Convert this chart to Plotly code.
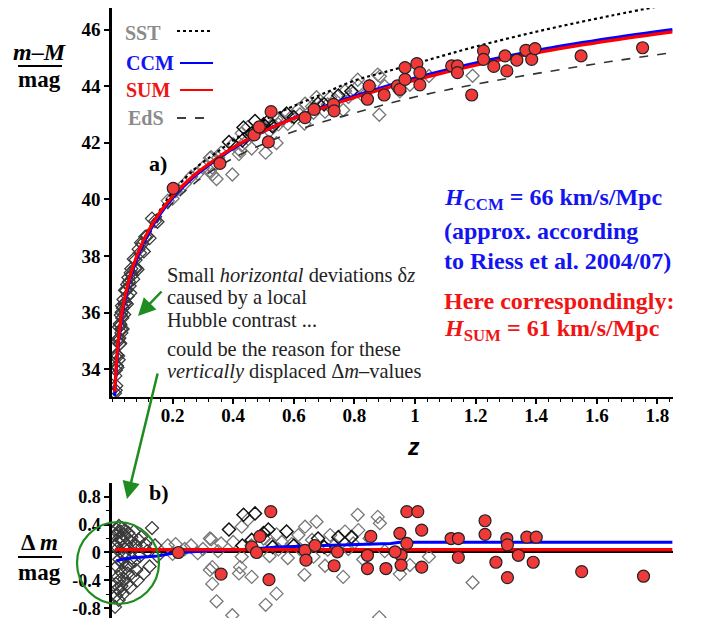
import plotly.graph_objects as go

# page body keeps an 8px margin, so the figure is placed with that offset
OX, OY = 8, 8
FW, FH = 685, 610

# ---------------- data ----------------
# model curves, top panel (z, m-M)
curve_z = [0.009, 0.01, 0.02, 0.036, 0.06, 0.086, 0.12, 0.16, 0.2, 0.27, 0.35, 0.43, 0.52,
           0.6, 0.7, 0.8, 0.9, 1.04, 1.2, 1.43, 1.65, 1.85]
ccm_mu = [33.07, 33.3, 34.8, 36.08, 37.2, 38.02, 38.8, 39.5, 40.05, 40.8, 41.45, 42.0, 42.5,
          42.88, 43.28, 43.65, 43.98, 44.4, 44.82, 45.32, 45.7, 46.0]
sum_mu = [33.2, 33.42, 34.92, 36.2, 37.3, 38.12, 38.88, 39.57, 40.11, 40.85, 41.48, 42.02, 42.5,
          42.87, 43.25, 43.6, 43.92, 44.33, 44.74, 45.24, 45.62, 45.92]
sst_mu = [33.07, 33.3, 34.82, 36.12, 37.26, 38.1, 38.92, 39.65, 40.25, 41.05, 41.7, 42.3, 42.9,
          43.3, 43.75, 44.2, 44.5, 44.92, 45.4, 46.0, 46.5, 46.92]
eds_mu = [33.05, 33.28, 34.78, 36.05, 37.15, 37.95, 38.7, 39.35, 39.87, 40.55, 41.15, 41.62, 42.05,
          42.4, 42.75, 43.05, 43.35, 43.72, 44.07, 44.5, 44.88, 45.19]

# residual lines, bottom panel
ccm_res_z = [0.015, 0.03, 0.06, 0.10, 0.15, 0.20, 0.30, 0.42, 0.55, 0.70, 0.85, 0.92, 0.95, 1.10, 1.40, 1.85]
ccm_res = [-0.12, -0.10, -0.08, -0.07, -0.05, -0.01, 0.02, 0.04, 0.08, 0.10, 0.12, 0.13, 0.145, 0.145, 0.145, 0.145]
sum_res_z = [0.01, 1.85]
sum_res = [0.04, 0.04]

# low-redshift diamonds (z, m-M, delta m)
lo_z = [0.010, 0.011, 0.012, 0.013, 0.014, 0.015, 0.016, 0.017, 0.018, 0.019, 0.020, 0.021, 0.022,
        0.023, 0.024, 0.025, 0.026, 0.027, 0.028, 0.029, 0.030, 0.031, 0.032, 0.033, 0.034, 0.035,
        0.036, 0.038, 0.040, 0.041, 0.043, 0.045, 0.047, 0.049, 0.050, 0.052, 0.054, 0.056, 0.058,
        0.060, 0.062, 0.064, 0.066, 0.070, 0.072, 0.075, 0.078, 0.080, 0.084, 0.088, 0.092, 0.096,
        0.100, 0.105, 0.110, 0.116, 0.124, 0.132, 0.142, 0.150]
lo_mu = [33.15, 33.76, 33.25, 33.97, 33.41, 34.51, 34.12, 34.50, 34.06, 34.97, 34.46, 35.06, 34.33,
         35.49, 35.10, 34.89, 35.60, 34.91, 35.56, 35.91, 35.41, 35.28, 36.01, 36.24, 35.81, 35.42,
         36.16, 36.46, 35.93, 36.31, 36.79, 36.35, 36.78, 36.30, 36.99, 36.58, 37.24, 37.09, 36.94,
         36.69, 37.41, 37.55, 37.32, 37.18, 37.89, 37.56, 37.86, 37.57, 37.52, 38.24, 38.11, 38.47,
         38.43, 38.16, 38.68, 38.70, 38.63, 39.32, 39.23, 39.21]
lo_dm = [-0.78, 0.25, -0.45, 0.10, -0.62, 0.33, -0.20, 0.05, -0.52, 0.28, -0.35, 0.15, -0.68,
         0.38, -0.10, -0.40, 0.22, -0.55, 0.02, 0.30, -0.28, -0.48, 0.18, 0.35, -0.15, -0.60,
         0.08, 0.26, -0.38, -0.05, 0.32, -0.22, 0.12, -0.45, 0.20, -0.30, 0.28, 0.05, -0.18,
         -0.50, 0.15, 0.22, -0.08, -0.35, 0.30, -0.12, 0.10, -0.25, -0.40, 0.18, -0.05, 0.22,
         0.08, -0.30, 0.12, 0.02, -0.20, 0.35, 0.10, -0.05]

# intermediate-redshift grey diamonds
gr_z = [0.184, 0.20, 0.21, 0.24, 0.261, 0.283, 0.30, 0.323, 0.323, 0.327, 0.331, 0.331, 0.345, 0.35,
        0.36, 0.397, 0.40, 0.419, 0.423, 0.428, 0.428, 0.448, 0.46, 0.461, 0.50, 0.507, 0.52, 0.527,
        0.543, 0.543, 0.549, 0.56, 0.58, 0.593, 0.615, 0.62, 0.635, 0.637, 0.66, 0.665, 0.675, 0.703,
        0.712, 0.72, 0.736, 0.763, 0.769, 0.78, 0.796, 0.811, 0.813, 0.829, 0.85, 0.877, 0.882,
        0.884, 0.90, 0.95, 0.983, 1.046, 1.19]
gr_mu = [39.95, 40.03, 40.29, 40.55, 40.80, 40.91, 41.12, 41.46, 41.01, 41.49, 41.12, 40.88, 40.72, 41.47,
         41.65, 40.88, 41.95, 41.60, 41.72, 42.34, 41.91, 42.55, 42.25, 41.80, 42.57, 41.65, 42.42, 42.62,
         42.84, 41.99, 42.65, 42.81, 42.67, 42.93, 43.18, 43.00, 42.68, 43.38, 43.28, 43.06, 43.61, 43.10,
         43.36, 43.60, 43.52, 43.16, 43.83, 43.62, 43.76, 44.23, 44.02, 43.65, 44.02, 44.41, 42.99,
         44.35, 44.00, 43.82, 44.05, 44.36, 44.37]
gr_dm = [0.10, -0.02, 0.12, 0.05, 0.10, -0.01, 0.05, 0.20, -0.25, 0.19, -0.21, -0.45, -0.70, 0.02,
         0.13, -0.90, 0.15, -0.30, -0.21, 0.37, -0.06, 0.47, 0.10, -0.35, 0.20, -0.75, -0.05, 0.12,
         0.26, -0.59, 0.045, 0.15, -0.08, 0.12, 0.25, 0.05, -0.32, 0.37, 0.18, -0.06, 0.44, -0.19,
         0.04, 0.25, 0.11, -0.35, 0.30, 0.05, 0.13, 0.54, 0.32, -0.10, 0.20, 0.51, -0.93,
         0.42, 0.02, -0.31, -0.18, -0.06, -0.43]

# intermediate-redshift black diamonds
bk_z = [0.386, 0.434, 0.472, 0.516, 0.576, 0.747, 0.461, 0.53, 0.60, 0.68, 0.70, 0.79, 0.43, 0.50]
bk_mu = [42.03, 42.54, 42.77, 42.78, 43.03, 43.67, 42.33, 42.58, 42.91, 43.39, 43.36, 43.82, 42.08, 42.65]
bk_dm = [0.33, 0.54, 0.56, 0.33, 0.30, 0.22, 0.18, 0.08, 0.10, 0.20, 0.08, 0.22, 0.10, 0.28]

# red circles, top panel
rc_top_z = [0.202, 0.356, 0.469, 0.486, 0.516, 0.525, 0.637, 0.667, 0.731, 0.733, 0.843, 0.849, 0.898,
            0.942, 0.95, 0.967, 0.967, 1.006, 1.016, 1.016, 1.121, 1.14, 1.14, 1.187, 1.226, 1.226,
            1.26, 1.297, 1.303, 1.336, 1.366, 1.385, 1.396, 1.548, 1.751]
rc_top_mu = [40.39, 41.27, 42.28, 42.56, 42.03, 43.10, 42.89, 43.18, 43.36, 43.13, 43.54, 44.01, 43.69,
             44.01, 43.89, 44.24, 44.66, 44.80, 44.48, 44.05, 44.72, 44.72, 44.48, 43.69, 45.25, 44.95,
             44.70, 45.07, 44.54, 44.92, 45.27, 44.95, 45.33, 45.07, 45.36]

# red circles, bottom panel
rc_bot_z = [0.219, 0.36, 0.524, 0.488, 0.461, 0.477, 0.518, 0.637, 0.64, 0.67, 0.733, 0.744, 0.854,
            0.843, 0.843, 0.904, 0.95, 0.973, 1.009, 1.022, 0.973, 0.954, 0.954, 1.022, 0.934,
            1.119, 1.143, 1.143, 1.231, 1.231, 1.267, 1.303, 1.305, 1.305, 1.341, 1.369, 1.40,
            1.39, 1.55, 1.754]
rc_bot_dm = [0.0, -0.31, 0.585, 0.23, 0.08, 0.0, -0.39, 0.03, -0.11, 0.10, -0.19, 0.01, 0.23,
             -0.04, -0.23, -0.23, 0.275, 0.585, 0.585, 0.32, 0.13, -0.04, -0.18, -0.21, 0.01,
             0.20, 0.20, -0.07, 0.455, 0.26, -0.14, 0.20, 0.11, -0.36, -0.04, 0.22, 0.22,
             -0.14, -0.275, -0.34]

x_ticks = [0.2, 0.4, 0.6, 0.8, 1.0, 1.2, 1.4, 1.6, 1.8]
x_tick_text = ["0.2", "0.4", "0.6", "0.8", "1", "1.2", "1.4", "1.6", "1.8"]
y_ticks = [34, 36, 38, 40, 42, 44, 46]
dm_ticks = [-0.8, -0.4, 0, 0.4, 0.8]
dm_tick_text = ["-0.8", "-0.4", "0", "0.4", "0.8"]

# ---------------- styles ----------------
BLUE = "#1414f0"
RED = "#f01414"
GREY = "#8a8a8a"
GREEN = "#1e8c1e"
SERIF = "Liberation Serif"
CIRCLE_FILL = "#f03a3a"


def px(x):
    return (x - OX) / FW


def py(y):
    return 1 - (y - OY) / FH


fig = go.Figure()

dia_grey = dict(symbol="diamond-open", size=10, color="#777777", line=dict(width=1.3, color="#777777"))
dia_dark = dict(symbol="diamond-open", size=10, color="#3a3a3a", line=dict(width=1.3, color="#3a3a3a"))
dia_black = dict(symbol="diamond-open", size=10, color="#111111", line=dict(width=1.5, color="#111111"))
circ = dict(symbol="circle", size=12, color=CIRCLE_FILL, line=dict(width=1.2, color="#222222"))

# top panel
fig.add_trace(go.Scatter(x=gr_z, y=gr_mu, mode="markers", marker=dia_grey, xaxis="x", yaxis="y"))
fig.add_trace(go.Scatter(x=lo_z, y=lo_mu, mode="markers", marker=dia_dark, xaxis="x", yaxis="y"))
fig.add_trace(go.Scatter(x=bk_z, y=bk_mu, mode="markers", marker=dia_black, xaxis="x", yaxis="y"))
fig.add_trace(go.Scatter(x=curve_z, y=sst_mu, mode="lines", line=dict(color="black", width=2.2, dash="dot", shape="spline"), xaxis="x", yaxis="y"))
fig.add_trace(go.Scatter(x=curve_z, y=eds_mu, mode="lines", line=dict(color="#333333", width=1.6, dash="dash", shape="spline"), xaxis="x", yaxis="y"))
fig.add_trace(go.Scatter(x=curve_z, y=ccm_mu, mode="lines", line=dict(color="#0000ff", width=3.2, shape="spline"), xaxis="x", yaxis="y"))
fig.add_trace(go.Scatter(x=curve_z, y=sum_mu, mode="lines", line=dict(color="#ff0000", width=3.2, shape="spline"), xaxis="x", yaxis="y"))
fig.add_trace(go.Scatter(x=rc_top_z, y=rc_top_mu, mode="markers", marker=circ, xaxis="x", yaxis="y"))

# bottom panel
fig.add_trace(go.Scatter(x=gr_z, y=gr_dm, mode="markers", marker=dia_grey, xaxis="x2", yaxis="y2"))
fig.add_trace(go.Scatter(x=lo_z, y=lo_dm, mode="markers", marker=dia_dark, xaxis="x2", yaxis="y2"))
fig.add_trace(go.Scatter(x=bk_z, y=bk_dm, mode="markers", marker=dia_black, xaxis="x2", yaxis="y2"))
fig.add_trace(go.Scatter(x=ccm_res_z, y=ccm_res, mode="lines", line=dict(color="#0000ff", width=3), xaxis="x2", yaxis="y2"))
fig.add_trace(go.Scatter(x=sum_res_z, y=sum_res, mode="lines", line=dict(color="#ff0000", width=3.2), xaxis="x2", yaxis="y2"))
fig.add_trace(go.Scatter(x=rc_bot_z, y=rc_bot_dm, mode="markers", marker=circ, xaxis="x2", yaxis="y2"))

x_dom = [px(112), px(672.6)]
tickfont_top = dict(family=SERIF, size=19, color="black", weight="bold")
tickfont_bot = dict(family=SERIF, size=18, color="black", weight="bold")

fig.update_layout(
    width=FW, height=FH, autosize=False,
    margin=dict(l=0, r=0, t=0, b=0),
    paper_bgcolor="white", plot_bgcolor="white",
    showlegend=False,
    xaxis=dict(domain=x_dom, range=[0, 1.85], anchor="y", showline=True, linecolor="black", linewidth=2,
               ticks="outside", ticklen=5, tickwidth=1.5, tickcolor="black",
               tickvals=x_ticks, ticktext=x_tick_text, tickfont=tickfont_top, ticklabelstandoff=-5,
               minor=dict(ticks="outside", ticklen=3, tickwidth=1, tickcolor="black", dtick=0.04, tick0=0),
               showgrid=False, zeroline=False),
    yaxis=dict(domain=[py(397.4), 1.0], range=[33, 46.765], anchor="x", showline=True, linecolor="black",
               linewidth=2.5, ticks="outside", ticklen=5, tickwidth=1.5, tickcolor="black",
               tickvals=y_ticks, tickfont=tickfont_top, ticklabelstandoff=0, ticklabeloverflow="allow",
               showgrid=False, zeroline=False),
    xaxis2=dict(domain=x_dom, range=[0, 1.85], anchor="y2", showline=False, showticklabels=False,
                ticks="", showgrid=False, zeroline=False),
    yaxis2=dict(domain=[py(618), py(483)], range=[-0.939, 0.996], anchor="x2", showline=True,
                linecolor="black", linewidth=2.5, ticks="outside", ticklen=5, tickwidth=1.5,
                tickcolor="black", tickvals=dm_ticks, ticktext=dm_tick_text, tickfont=tickfont_bot,
                minor=dict(ticks="outside", ticklen=3, tickwidth=1, tickcolor="black", dtick=0.2, tick0=0),
                ticklabelstandoff=0, ticklabeloverflow="allow",
                showgrid=False, zeroline=True, zerolinecolor="black", zerolinewidth=2),
)

ann = []


def text(x, y, s, size=20, color="black", xanchor="left", family=SERIF):
    ann.append(dict(x=px(x), y=py(y), xref="paper", yref="paper", text=s, showarrow=False,
                    xanchor=xanchor, yanchor="middle", font=dict(family=family, size=size, color=color)))


# y titles
text(40, 52, "<b><i>m</i>–<i>M</i></b>", size=24, xanchor="center")
text(40, 80, "<b>mag</b>", size=23, xanchor="center")
text(40, 542, "<b>Δ <i>m</i></b>", size=23, xanchor="center")
text(40, 572, "<b>mag</b>", size=23, xanchor="center")

# legend
text(123, 33, "<b>SST</b>", color=GREY)
text(124, 63, "<b>CCM</b>", color=BLUE)
text(124, 90, "<b>SUM</b>", color=RED)
text(126, 118, "<b>EdS</b>", color=GREY)

# panel labels
text(147, 164, "<b>a)</b>", size=22)
text(147, 492, "<b>b)</b>", size=22)

# x title
text(413, 447, "<b><i>z</i></b>", size=23, xanchor="center", family="Liberation Sans")

# explanation text
mid = "#222222"
text(165, 275, "Small <i>horizontal</i> deviations δ<i>z</i>", size=20.4, color=mid)
text(165, 297.5, "caused by a local", size=20.4, color=mid)
text(165, 320, "Hubble contrast ...", size=20.4, color=mid)
text(165, 349, "could be the reason for these", size=20.4, color=mid)
text(165, 371.5, "<i>vertically</i> displaced Δ<i>m</i>–values", size=20.4, color=mid)

# Hubble constants
text(442, 199, "<b><i>H</i><sub>CCM</sub> = 66 km/s/Mpc</b>", size=24, color=BLUE)
text(442, 231, "<b>(approx. according</b>", size=24, color=BLUE)
text(442, 261, "<b>to Riess et al. 2004/07)</b>", size=24, color=BLUE)
text(442, 301, "<b>Here correspondingly:</b>", size=24, color=RED)
text(442, 330, "<b><i>H</i><sub>SUM</sub> = 61 km/s/Mpc</b>", size=24, color=RED)

# green arrows
for (tx, ty, hx, hy) in [(163, 290, 138, 316), (158, 372, 127, 499)]:
    ann.append(dict(x=px(hx), y=py(hy), xref="paper", yref="paper", text="", showarrow=True,
                    ax=tx - hx, ay=ty - hy, axref="pixel", ayref="pixel",
                    arrowhead=2, arrowsize=1.4, arrowwidth=2.5, arrowcolor=GREEN))

fig.update_layout(annotations=ann)

shapes = [
    # fraction bars of y titles
    dict(type="line", xref="paper", yref="paper", x0=px(18), x1=px(62), y0=py(66), y1=py(66),
         line=dict(color="black", width=2)),
    dict(type="line", xref="paper", yref="paper", x0=px(18), x1=px(62), y0=py(557), y1=py(557),
         line=dict(color="black", width=2)),
    # legend line samples
    dict(type="line", xref="paper", yref="paper", x0=px(177), x1=px(212), y0=py(31), y1=py(31),
         line=dict(color="black", width=2, dash="dot")),
    dict(type="line", xref="paper", yref="paper", x0=px(180), x1=px(213), y0=py(63), y1=py(63),
         line=dict(color="#0000ff", width=2)),
    dict(type="line", xref="paper", yref="paper", x0=px(180), x1=px(213), y0=py(90), y1=py(90),
         line=dict(color="#ff0000", width=2)),
    dict(type="line", xref="paper", yref="paper", x0=px(177), x1=px(213), y0=py(118), y1=py(118),
         line=dict(color="black", width=1.6, dash="dash")),
    # green circle
    dict(type="circle", xref="paper", yref="paper", x0=px(77), x1=px(159), y0=py(604), y1=py(522),
         line=dict(color=GREEN, width=2.2)),
]
fig.update_layout(shapes=shapes)

fig.write_html("out.html")
